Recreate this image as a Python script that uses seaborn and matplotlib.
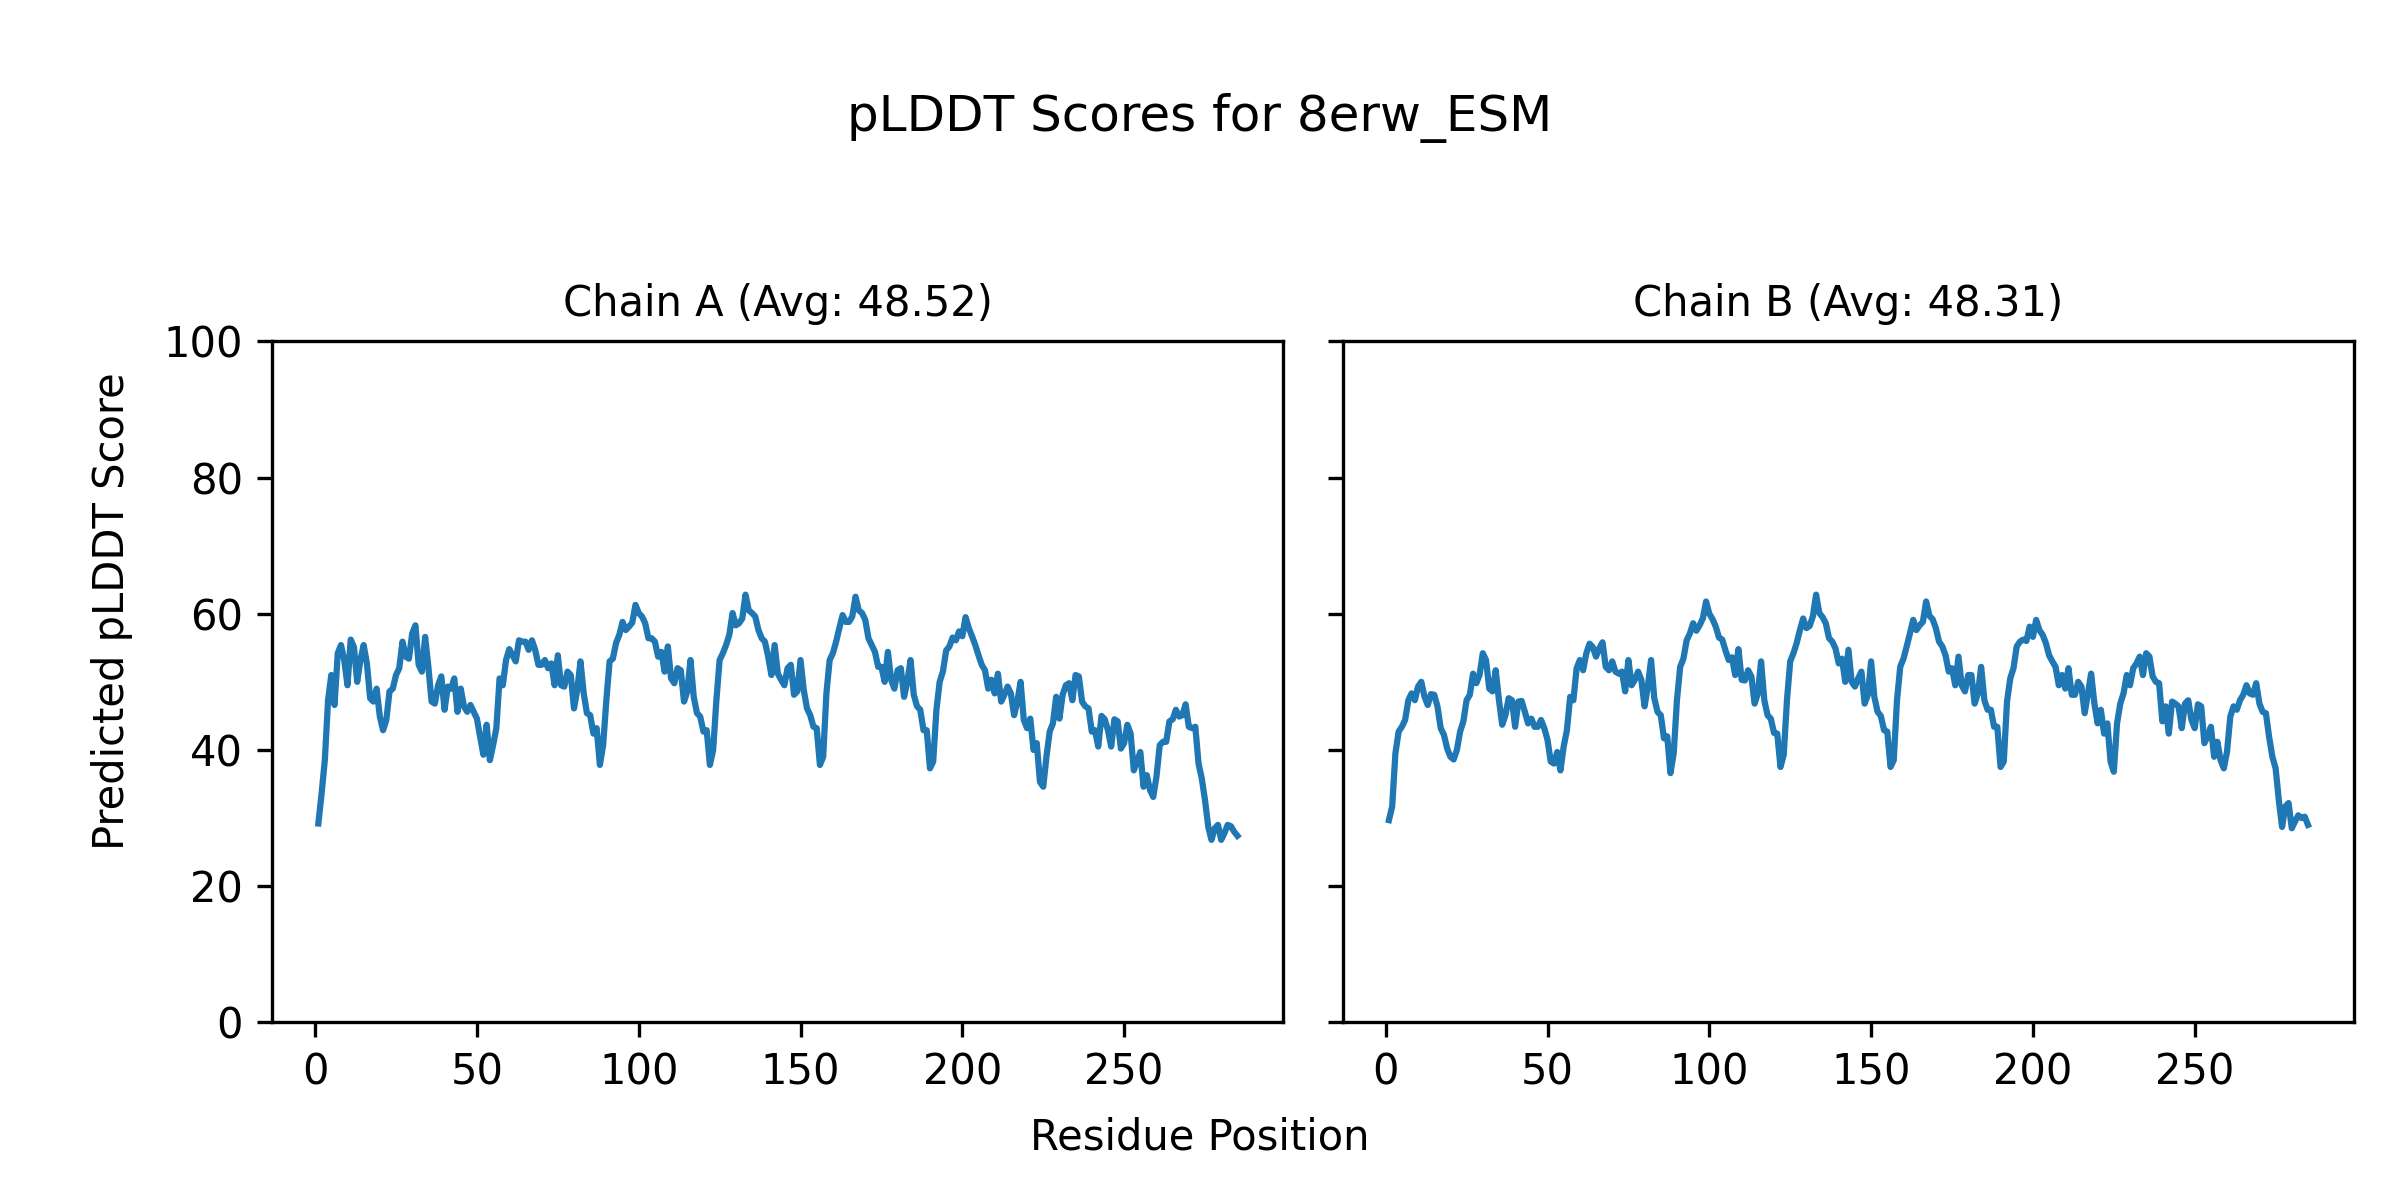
import numpy as np
import pandas as pd
import matplotlib
matplotlib.use("Agg")
import matplotlib.pyplot as plt
import seaborn as sns

# ---------------------------------------------
# pLDDT values per residue
# ---------------------------------------------
model_name = "8erw_ESM"
chain_names = ["A", "B"]
chain_avgs = [48.52, 48.31]

plddt_a = [
    29.2, 33.6, 38.5, 47.3, 51.0, 46.6, 54.2, 55.4, 53.2, 49.5,
    56.2, 55.1, 50.0, 53.2, 55.4, 52.7, 47.6, 47.1, 49.0, 44.9,
    42.9, 44.4, 48.6, 49.0, 51.0, 52.0, 55.9, 53.7, 53.4, 57.1,
    58.3, 52.5, 51.5, 56.6, 52.2, 47.1, 46.8, 49.5, 50.8, 45.9,
    49.3, 49.0, 50.5, 45.6, 49.0, 46.4, 45.6, 46.6, 45.6, 44.6,
    41.9, 39.3, 43.7, 38.5, 40.7, 43.2, 50.5, 49.5, 53.2, 54.8,
    53.9, 53.0, 56.1, 55.9, 55.9, 54.7, 56.1, 54.7, 52.5,
    52.5, 53.2, 52.0, 52.7, 49.5, 53.9, 49.5, 49.3, 51.5, 51.0,
    46.1, 48.8, 53.0, 48.3, 45.4, 45.1, 42.4, 43.2, 37.8, 40.7,
    47.3, 53.0, 53.4, 55.7, 56.9, 58.8, 57.6, 58.1, 58.7, 61.3,
    60.1, 59.6, 58.6, 56.4, 56.4, 55.9, 53.7, 54.4, 51.5, 55.2,
    50.5, 49.8, 52.0, 51.7, 47.1, 48.6, 53.2, 47.8, 45.4, 44.9,
    42.7, 42.9, 37.8, 40.0, 47.3, 53.2, 54.2, 55.4, 56.9, 60.1,
    58.3, 58.6, 59.3, 62.8, 60.5, 60.1, 59.6, 57.6, 56.4, 55.9, 53.7,
    51.0, 55.4, 51.2, 50.3, 49.5, 52.0, 52.5, 48.1, 48.6, 53.2,
    48.8, 46.1, 45.1, 43.4, 43.2, 37.8, 39.0, 48.3, 53.2, 54.2,
    55.9, 57.9, 59.8, 58.8, 58.8, 59.6, 62.5, 60.5, 60.1, 59.1,
    56.4, 55.4, 54.4, 52.2, 52.2, 50.0, 54.4, 50.3, 49.0, 51.7,
    52.0, 47.8, 50.0, 53.2, 48.1, 46.4, 45.9, 42.9, 42.9, 37.3,
    38.3, 45.9, 50.0, 51.5, 54.6, 55.2, 56.5, 56.1, 57.4, 56.7,
    59.5, 57.9, 56.7, 55.4, 53.9, 52.5, 51.7, 49.0, 50.3, 48.3, 51.2,
    47.1, 48.1, 49.3, 48.3, 45.1, 47.1, 50.0, 44.4, 43.2, 44.6,
    40.0, 41.0, 35.3, 34.6, 39.0, 42.7, 43.9, 47.8, 44.6, 48.1,
    49.5, 49.8, 47.3, 51.0, 50.8, 47.1, 46.4, 46.1, 42.7, 42.9,
    40.5, 45.0, 44.5, 42.9, 40.5, 44.5, 44.2, 40.2, 41.0, 43.7,
    42.4, 37.0, 38.3, 39.7, 34.6, 36.3, 34.1, 33.1, 36.1, 40.7,
    41.2, 41.2, 44.2, 44.5, 45.9, 44.9, 45.1, 46.7, 43.4, 43.2,
    43.4, 38.0, 35.8, 32.6, 28.7, 26.8, 28.5, 29.0, 26.8, 27.8,
    29.0, 28.8, 28.0, 27.4,
]

plddt_b = [
    29.7, 31.7, 39.5, 42.7, 43.4, 44.4, 47.3, 48.3, 47.3, 49.3,
    50.0, 47.8, 46.6, 48.2, 48.1, 46.4, 43.2, 42.2, 40.2, 39.0,
    38.6, 40.0, 42.7, 44.2, 47.3, 48.1, 51.2, 49.8, 51.0, 54.2,
    53.2, 49.0, 48.6, 51.7, 47.3, 43.7, 45.1, 47.6, 47.3, 43.4,
    47.1, 47.2, 45.6, 43.9, 44.6, 43.4, 43.4, 44.4, 43.2, 41.5,
    38.3, 38.0, 39.7, 37.0, 40.5, 42.9, 47.8, 47.3, 52.0, 53.2,
    51.7, 54.2, 55.6, 55.1, 53.7, 54.9, 55.8, 52.2,
    51.7, 53.0, 51.5, 51.2, 51.5, 48.6, 53.2, 49.5, 50.3, 51.5,
    50.3, 46.4, 49.3, 53.2, 47.6, 45.6, 45.1, 41.7, 42.0, 36.6,
    39.5, 47.3, 52.2, 53.4, 56.1, 57.1, 58.6, 57.5, 58.3, 59.3,
    61.8, 60.0, 59.2, 58.1, 56.5, 56.2, 54.6, 53.2, 53.6, 51.0,
    54.8, 50.3, 50.2, 51.7, 50.8, 46.8, 48.3, 53.0, 47.3, 45.1,
    44.6, 42.5, 42.4, 37.5, 39.3, 47.3, 53.0, 54.2, 55.7, 57.6,
    59.3, 57.9, 58.2, 59.6, 62.8, 60.1, 59.5, 58.6, 56.4, 55.9,
    54.9,
    52.7, 53.4, 50.0, 54.7, 50.0, 49.3, 50.5, 51.5, 46.8, 48.1,
    53.0, 47.8, 45.6, 45.0, 42.9, 42.7, 37.5, 38.5, 47.3, 52.2,
    53.4, 55.2, 57.1, 59.1, 57.6, 58.3, 58.8, 61.8, 59.7, 59.2,
    57.9, 55.9, 55.2, 53.9, 51.5, 52.0, 49.5, 53.7, 49.5, 48.6,
    51.0, 51.0, 46.8, 48.3, 52.2, 47.3, 45.9, 45.9, 43.4, 43.4,
    37.5, 38.3, 47.1, 50.5, 52.0, 55.2, 55.9, 56.2, 56.0, 58.1,
    56.6, 59.1, 57.6, 56.9, 55.7, 53.9, 53.0, 52.2, 49.5, 51.0, 49.0, 52.0,
    48.1, 48.1, 50.0, 49.3, 45.4, 48.3, 51.2, 46.8, 43.9, 45.9,
    42.4, 43.9, 38.3, 36.8, 43.9, 46.8, 48.3, 51.0, 49.5, 52.0,
    52.7, 53.7, 51.0, 54.2, 53.7, 50.8, 50.0, 49.8, 44.2, 46.4,
    42.4, 47.1, 46.8, 46.4, 43.2, 46.8, 47.3, 44.4, 43.2, 46.7,
    46.4, 41.0, 42.0, 43.4, 39.0, 41.2, 38.5, 37.3, 39.8, 44.9,
    46.4, 45.9, 47.3, 48.1, 49.5, 48.3, 48.1, 49.8, 46.8, 45.6,
    45.4, 41.9, 39.0, 37.3, 32.6, 28.7, 31.7, 32.2, 28.5, 29.5,
    30.4, 30.0, 30.2, 29.0,
]

y_ticks = [0, 20, 40, 60, 80, 100]
x_ticks = [0, 50, 100, 150, 200, 250]

# long-form table for seaborn
frames = []
for name, vals in zip(chain_names, [plddt_a, plddt_b]):
    frames.append(pd.DataFrame({
        "chain": name,
        "residue": np.arange(1, len(vals) + 1),
        "plddt": vals,
    }))
df = pd.concat(frames, ignore_index=True)

# ---------------------------------------------
# Plot
# ---------------------------------------------
fig, axes = plt.subplots(1, 2, figsize=(8, 4), dpi=300, sharey=True)
fig.subplots_adjust(left=0.1135, right=0.9808, bottom=0.148, top=0.7156, wspace=0.059)

for ax, name, avg in zip(axes, chain_names, chain_avgs):
    sub = df[df["chain"] == name]
    sns.lineplot(data=sub, x="residue", y="plddt", ax=ax, color="#1f77b4", linewidth=1.5)
    ax.set_title(f"Chain {name} (Avg: {avg:.2f})", fontsize=10)
    ax.set_ylim(0, 100)
    ax.set_yticks(y_ticks)
    ax.set_xticks(x_ticks)
    ax.set_xlabel("")
    ax.set_ylabel("")

fig.supylabel("Predicted pLDDT Score", x=0.0466, y=0.491, ha="center", va="center", fontsize=10)
fig.supxlabel("Residue Position", y=0.0525, va="center", fontsize=10)
fig.suptitle(f"pLDDT Scores for {model_name}", y=0.902, va="center", fontsize=12)

plt.savefig("out.png", dpi=300)
